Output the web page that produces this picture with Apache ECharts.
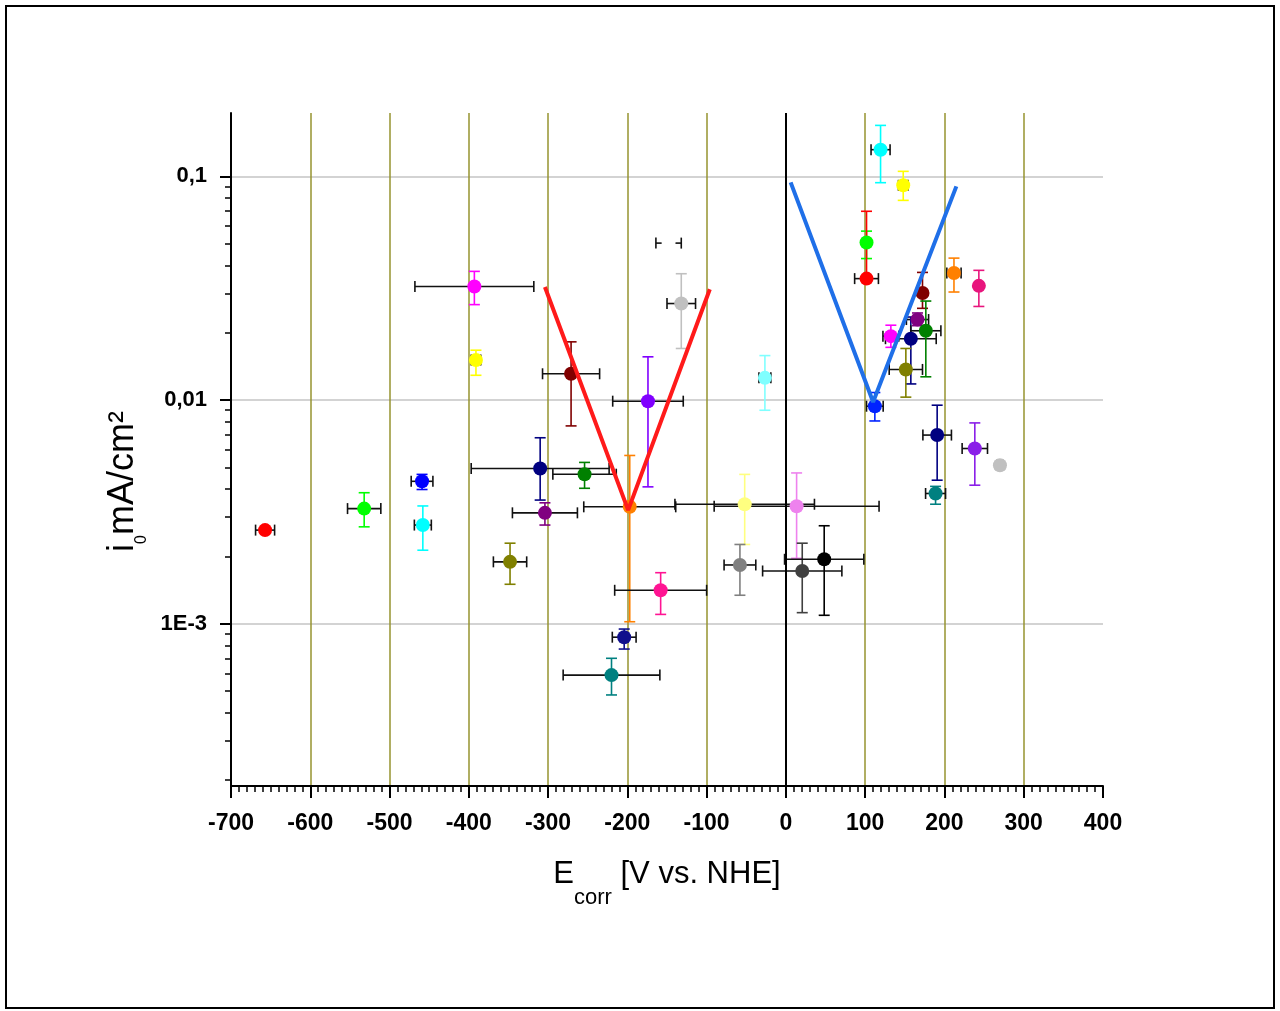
<!DOCTYPE html>
<html>
<head>
<meta charset="utf-8">
<script src="https://cdn.jsdelivr.net/npm/echarts@6/dist/echarts.min.js"></script>
<style>
html,body{margin:0;padding:0;background:#fff;}
#chart{width:1280px;height:1011px;}
</style>
</head>
<body>
<div id="chart"></div>
<script>
// ---- data (E_corr in mV vs NHE, i0 in mA/cm2) ----
const pointX = [-657,-532,-459,-458,-393,-391,-348,-310,-254,-304,-271,-197,-174,-132,-148,-158,-204,-220,-26.5,-52,13.5,-58,20.6,48.3,
                119.4,148,101.7,101.7,212,243.4,172.3,166,132.4,157.6,176.5,151.3,112.2,190.8,238.3,188.8,270];
const pointY = [0.00262,0.00327,0.00433,0.00276,0.0322,0.0151,0.00189,0.00494,0.00466,0.00313,0.0131,0.00333,0.00988,0.0270,0.0503,0.00141,0.00087,0.000589,0.01256,0.00342,0.00335,0.00183,0.00172,0.00194,
                0.1316,0.0912,0.0506,0.0349,0.037,0.0324,0.0301,0.0229,0.0193,0.0188,0.0204,0.0137,0.00938,0.00697,0.00607,0.00382,0.00511];
const xError = [12,21,13.7,10.7,75,6,21,87,40,41,36,58,44.5,18,16,58,15,61,7.5,88,104,20,50,50,
                12,6,4,15,9,0,0,14,10,32,19,21,10.5,18,16,12.6,4];
const yLow = [null,0.00271,0.00398,0.00213,0.0267,0.0129,0.0015,0.00357,0.00403,0.00276,0.00766,0.00102,0.00409,0.0170,null,0.0011,0.00077,0.00048,0.0090,0.00226,0.00196,0.00134,0.00112,0.00109,
              0.0937,0.0781,0.0429,null,0.0304,0.0262,0.0257,0.0215,0.0172,0.0118,0.0127,0.0103,0.00806,0.00438,0.00416,0.00342,0.0049];
const yHigh = [null,0.00385,0.00465,0.00336,0.0376,0.0167,0.00229,0.00678,0.00526,0.00347,0.0182,0.00565,0.0156,0.0367,null,0.00169,0.000946,0.0007,0.0158,0.00465,0.00472,0.00226,0.00229,0.00274,
               0.169,0.1053,0.0569,0.0698,0.0431,0.038,0.0372,0.0245,0.0216,0.0235,0.0277,0.0170,0.0108,0.00948,0.0079,0.00411,0.0053];
const pointColors = ['#ff0000','#00ff00','#0000ff','#00ffff','#ff00ff','#ffff00','#808000','#000080','#008000','#800080','#800000','#ff8000','#8000ff','#c0c0c0','#ffffff','#ff1493','#10108c','#008080','#80ffff','#ffff80','#ee82ee','#808080','#404040','#000000',
                     '#00ffff','#ffff00','#00ff00','#ff0000','#ff8000','#e8157d','#800000','#800080','#ff00ff','#000080','#008000','#808000','#0022ff','#000080','#8a1ee8','#008080','#c0c0c0'];
const redV = [[-304,0.032],[-199,0.00322],[-96,0.0313]];
const blueV = [[6,0.094],[110,0.0098],[215,0.0902]];
const yMajorTicks = [0.001,0.01,0.1];
const yMajorLabels = ['1E-3','0,01','0,1'];
const yMinorTicks = [0.0002,0.0003,0.0004,0.0005,0.0006,0.0007,0.0008,0.0009,
                     0.002,0.003,0.004,0.005,0.006,0.007,0.008,0.009,
                     0.02,0.03,0.04,0.05,0.06,0.07,0.08,0.09];
const xMin = -700, xMax = 400, xStep = 100;
const yMin = 0.000188, yMax = 0.192;

const FONT = '"Liberation Sans", Arial, sans-serif';

const errData = pointX.map((x, i) => {
  const y = pointY[i];
  const lo = yLow[i] == null ? y : yLow[i];
  const hi = yHigh[i] == null ? y : yHigh[i];
  return [x, y, x - xError[i], x + xError[i], lo, hi];
});
const scatterData = pointX.map((x, i) => ({ value: [x, pointY[i]], itemStyle: { color: pointColors[i], opacity: 1 } }));

function renderErr(params, api) {
  const i = params.dataIndex;
  const x = api.value(0), y = api.value(1);
  const xl = api.value(2), xh = api.value(3), yl = api.value(4), yh = api.value(5);
  const children = [];
  const cap = 5.5;
  const black = '#111';
  if (xh > xl) {
    const a = api.coord([xl, y]), b = api.coord([xh, y]);
    children.push({ type: 'line', shape: { x1: a[0], y1: a[1], x2: b[0], y2: b[1] }, style: { stroke: black, lineWidth: 1.6 } });
    children.push({ type: 'line', shape: { x1: a[0], y1: a[1] - cap, x2: a[0], y2: a[1] + cap }, style: { stroke: black, lineWidth: 1.6 } });
    children.push({ type: 'line', shape: { x1: b[0], y1: b[1] - cap, x2: b[0], y2: b[1] + cap }, style: { stroke: black, lineWidth: 1.6 } });
  }
  const col = pointColors[i] === '#ffffff' ? black : pointColors[i];
  if (yh > yl) {
    const c = api.coord([x, yl]), d = api.coord([x, yh]);
    children.push({ type: 'line', shape: { x1: c[0], y1: c[1], x2: d[0], y2: d[1] }, style: { stroke: col, lineWidth: 1.6 } });
    if (yl < y) children.push({ type: 'line', shape: { x1: c[0] - cap, y1: c[1], x2: c[0] + cap, y2: c[1] }, style: { stroke: col, lineWidth: 1.6 } });
    if (yh > y) children.push({ type: 'line', shape: { x1: d[0] - cap, y1: d[1], x2: d[0] + cap, y2: d[1] }, style: { stroke: col, lineWidth: 1.6 } });
  }
  return { type: 'group', children: children };
}

const chart = echarts.init(document.getElementById('chart'), null, { renderer: 'canvas' });
chart.setOption({
  animation: false,
  backgroundColor: '#ffffff',
  graphic: [{
    type: 'rect', z: 100, silent: true,
    shape: { x: 6, y: 6, width: 1268, height: 1002 },
    style: { fill: 'none', stroke: '#000', lineWidth: 2 }
  }],
  grid: { left: 231, right: 177, top: 113, bottom: 225, containLabel: false },
  xAxis: {
    type: 'value', min: xMin, max: xMax, interval: xStep,
    name: '{e|E}{s|corr}{e| [V vs. NHE]}',
    nameLocation: 'middle', nameGap: 61,
    nameTextStyle: {
      rich: {
        e: { fontSize: 31, lineHeight: 31, fontFamily: FONT, color: '#000' },
        s: { fontSize: 22, lineHeight: 22, fontFamily: FONT, color: '#000', padding: [47, 0, 0, 0] }
      }
    },
    axisLine: { show: true, onZero: false, lineStyle: { color: '#000', width: 2 } },
    axisTick: { show: true, inside: false, length: 12, lineStyle: { color: '#000', width: 2 } },
    minorTick: { show: true, splitNumber: 10, length: 6, lineStyle: { color: '#000', width: 1.5 } },
    axisLabel: { fontSize: 23, fontWeight: 'bold', fontFamily: FONT, color: '#000', margin: 26 },
    splitLine: { show: true, showMinLine: false, showMaxLine: false, lineStyle: { color: '#96932f', width: 1.5 } },
    minorSplitLine: { show: false }
  },
  yAxis: [{
    type: 'log', logBase: 10, min: yMin, max: yMax, position: 'left',
    name: '{i|i}{s|0}{i|mA/cm²}',
    nameLocation: 'middle', nameRotate: 90, nameGap: 86,
    nameTextStyle: {
      padding: [0, 64, 0, 0],
      rich: {
        i: { fontSize: 36, lineHeight: 36, fontFamily: FONT, color: '#000' },
        s: { fontSize: 16, lineHeight: 16, fontFamily: FONT, color: '#000', padding: [38, 0, 0, 0] }
      }
    },
    axisLine: { show: true, onZero: false, lineStyle: { color: '#000', width: 2 } },
    axisTick: { show: true, inside: false, length: 11, customValues: yMajorTicks, lineStyle: { color: '#000', width: 2 } },
    axisLabel: {
      customValues: yMajorTicks, fontSize: 22, fontWeight: 'bold', fontFamily: FONT, color: '#000', margin: 24,
      formatter: function (v) {
        for (let k = 0; k < yMajorTicks.length; k++) {
          if (Math.abs(Math.log10(v) - Math.log10(yMajorTicks[k])) < 1e-6) return yMajorLabels[k];
        }
        return '';
      }
    },
    splitLine: { show: true, showMinLine: true, showMaxLine: true, lineStyle: { color: '#c4c4c4', width: 1.5 } },
    minorTick: { show: false }
  }, {
    type: 'log', logBase: 10, min: yMin, max: yMax, position: 'left', offset: 0,
    axisLine: { show: false, onZero: false },
    axisTick: { show: true, inside: false, length: 6, customValues: yMinorTicks, lineStyle: { color: '#000', width: 1.5 } },
    axisLabel: { show: false },
    splitLine: { show: false }
  }],
  series: [{
    type: 'custom',
    name: 'errors',
    renderItem: renderErr,
    data: errData,
    encode: { x: [0, 2, 3], y: [1, 4, 5] },
    z: 2,
    markLine: {
      silent: true, symbol: 'none', animation: false,
      label: { show: false },
      lineStyle: { color: '#000', width: 2, type: 'solid' },
      data: [{ xAxis: 0 }]
    }
  }, {
    type: 'scatter',
    name: 'points',
    symbol: 'circle', symbolSize: 14,
    itemStyle: { opacity: 1 },
    data: scatterData,
    z: 3
  }, {
    type: 'line', name: 'redV', data: redV, symbol: 'none', z: 4,
    lineStyle: { color: '#ff1a1a', width: 4 }
  }, {
    type: 'line', name: 'blueV', data: blueV, symbol: 'none', z: 4,
    lineStyle: { color: '#1f6fe8', width: 4 }
  }]
});
</script>
</body>
</html>
